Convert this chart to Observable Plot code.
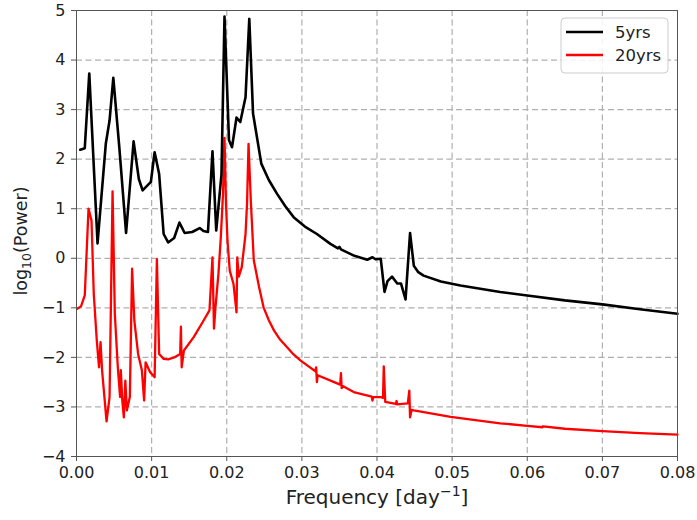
<!DOCTYPE html>
<html>
<head>
<meta charset="utf-8">
<script src="https://cdn.jsdelivr.net/npm/d3@7"></script>
<script src="https://cdn.jsdelivr.net/npm/@observablehq/plot@0.6"></script>
<style>
  body { margin: 0; background: #fff; }
  #chart svg { display: block; }
</style>
</head>
<body>
<div id="chart"></div>
<script>
// ---- data ----
const freq5 = [0.0005,0.0011,0.0017,0.0028,0.0039,0.0044,0.0049,0.0057,0.0066,0.0076,0.0083,0.0088,0.0099,0.0104,0.0110,0.0116,0.0122,0.0130,0.0137,0.0144,0.0154,0.0164,0.0169,0.0175,0.0181,0.0186,0.0193,0.0197,0.0203,0.0207,0.0213,0.0218,0.0225,0.0230,0.0235,0.0246,0.0256,0.0267,0.0278,0.0289,0.0304,0.0320,0.0338,0.0348,0.0350,0.0352,0.0370,0.0387,0.0394,0.0398,0.0405,0.0410,0.0414,0.0420,0.0427,0.0432,0.0438,0.0444,0.0449,0.0455,0.0462,0.0485,0.0511,0.0564,0.0600,0.0650,0.0700,0.0750,0.0800];
const pow5  = [2.19,2.22,3.73,0.30,2.31,2.78,3.64,2.24,0.51,2.36,1.60,1.37,1.54,2.14,1.70,0.49,0.32,0.41,0.72,0.51,0.53,0.61,0.55,0.53,2.16,0.56,1.70,4.88,2.38,2.24,2.84,2.75,3.25,4.83,2.92,1.91,1.58,1.30,1.05,0.83,0.64,0.49,0.29,0.20,0.23,0.18,0.05,-0.03,0.02,-0.02,-0.01,-0.68,-0.46,-0.37,-0.51,-0.51,-0.83,0.51,-0.15,-0.28,-0.35,-0.47,-0.55,-0.68,-0.75,-0.85,-0.93,-1.03,-1.12];

const freq20 = [0.0001,0.0006,0.0011,0.0016,0.0020,0.0023,0.0027,0.0030,0.0032,0.0034,0.0040,0.0044,0.0048,0.0051,0.0055,0.0058,0.0059,0.0061,0.0063,0.0065,0.0067,0.0071,0.0074,0.0077,0.0082,0.0087,0.0090,0.0092,0.0098,0.0104,0.0107,0.0110,0.0116,0.0122,0.0130,0.0138,0.0139,0.0140,0.0143,0.0156,0.0169,0.0177,0.0181,0.0183,0.0185,0.0189,0.0192,0.0195,0.0197,0.0199,0.0201,0.0204,0.0209,0.0213,0.0214,0.0216,0.0220,0.0225,0.0227,0.0229,0.0232,0.0236,0.0243,0.0249,0.0256,0.0263,0.0271,0.0280,0.0289,0.0298,0.0308,0.0318,0.0319,0.0320,0.0321,0.0343,0.0351,0.0352,0.0353,0.0355,0.0369,0.0393,0.0394,0.0395,0.0405,0.0408,0.0409,0.0411,0.0425,0.0426,0.0427,0.0441,0.0443,0.0444,0.0446,0.0449,0.0498,0.0564,0.0600,0.0620,0.0621,0.0650,0.0700,0.0750,0.0800];
const pow20  = [-1.02,-0.97,-0.75,1.00,0.76,-0.72,-1.66,-2.20,-1.69,-2.25,-3.29,-2.80,1.35,-1.12,-2.20,-2.80,-2.26,-2.88,-3.21,-2.47,-3.07,-2.80,-0.21,-1.26,-1.93,-2.26,-2.87,-2.10,-2.30,-2.40,-0.02,-1.93,-2.03,-2.04,-2.00,-1.93,-1.38,-2.20,-1.86,-1.59,-1.26,-1.05,0.02,-1.42,-0.99,-0.30,0.40,1.30,2.43,1.10,0.35,-0.25,-0.52,-1.09,0.02,-0.37,-0.18,0.49,1.10,2.31,1.17,-0.04,-0.58,-0.99,-1.25,-1.46,-1.64,-1.79,-1.94,-2.06,-2.17,-2.28,-2.20,-2.50,-2.36,-2.50,-2.55,-2.32,-2.62,-2.58,-2.70,-2.79,-2.87,-2.80,-2.80,-2.82,-2.18,-2.90,-2.94,-2.88,-2.95,-2.93,-2.67,-3.21,-3.06,-3.07,-3.20,-3.33,-3.38,-3.41,-3.39,-3.44,-3.49,-3.53,-3.56];

const seriesNames = ["5yrs", "20yrs"];
const seriesColors = ["#000000", "#ff0000"];
const xTicks = [0, 0.01, 0.02, 0.03, 0.04, 0.05, 0.06, 0.07, 0.08];
const yTicks = [-4, -3, -2, -1, 0, 1, 2, 3, 4, 5];

const data5 = freq5.map((f, i) => ({f, p: pow5[i]}));
const data20 = freq20.map((f, i) => ({f, p: pow20[i]}));

const font = "DejaVu Sans, sans-serif";
const chart = Plot.plot({
  width: 697,
  height: 520,
  marginLeft: 76,
  marginRight: 20,
  marginTop: 10,
  marginBottom: 64,
  style: {fontFamily: font, fontSize: "16px", color: "#222", background: "#fff"},
  x: {domain: [0, 0.08], label: null},
  y: {domain: [-4, 5], label: null},
  marks: [
    Plot.gridX(xTicks.slice(1, -1), {stroke: "#b0b0b0", strokeOpacity: 1, strokeWidth: 1.2, strokeDasharray: "6,3.5"}),
    Plot.gridY(yTicks.slice(1, -1), {stroke: "#b0b0b0", strokeOpacity: 1, strokeWidth: 1.2, strokeDasharray: "6,3.5"}),
    Plot.line(data20, {x: "f", y: "p", stroke: seriesColors[1], strokeWidth: 2.3}),
    Plot.line(data5, {x: "f", y: "p", stroke: seriesColors[0], strokeWidth: 2.6}),
    Plot.frame({stroke: "#555", strokeWidth: 1}),
    Plot.axisX(xTicks, {tickFormat: d3.format(".2f"), tickSize: 5, tickPadding: 5, label: null, stroke: "#555"}),
    Plot.axisY(yTicks, {tickFormat: d3.format("d"), tickSize: 5, tickPadding: 6, label: null, stroke: "#555"})
  ]
});

const svg = d3.select(chart);
// axis labels
const xl = svg.append("text")
  .attr("x", 377).attr("y", 504)
  .attr("text-anchor", "middle")
  .attr("font-family", font).attr("font-size", 20).attr("fill", "#222");
xl.append("tspan").text("Frequency [day");
xl.append("tspan").attr("font-size", 14).attr("dy", -8).text("−1");
xl.append("tspan").attr("dy", 8).text("]");

const yl = svg.append("text")
  .attr("transform", "translate(27,241) rotate(-90)")
  .attr("text-anchor", "middle")
  .attr("font-family", font).attr("font-size", 17.5).attr("fill", "#222");
yl.append("tspan").text("log");
yl.append("tspan").attr("font-size", 12.5).attr("dy", 4).text("10");
yl.append("tspan").attr("dy", -4).text("(Power)");

// legend
const lg = svg.append("g").attr("font-family", font).attr("font-size", 16.5)
  .attr("fill", "#222").attr("text-anchor", "start");
lg.append("rect").attr("x", 561).attr("y", 18).attr("width", 107).attr("height", 55)
  .attr("rx", 4).attr("fill", "#fff").attr("fill-opacity", 0.85).attr("stroke", "#ccc");
seriesNames.forEach((name, i) => {
  const yy = 32 + i * 23;
  lg.append("line").attr("x1", 566).attr("x2", 603).attr("y1", yy).attr("y2", yy)
    .attr("stroke", seriesColors[i]).attr("stroke-width", 2.6);
  lg.append("text").attr("x", 615).attr("y", yy).attr("dy", "0.35em")
    .attr("text-anchor", "start").text(name);
});

document.getElementById("chart").appendChild(chart);
</script>
</body>
</html>
